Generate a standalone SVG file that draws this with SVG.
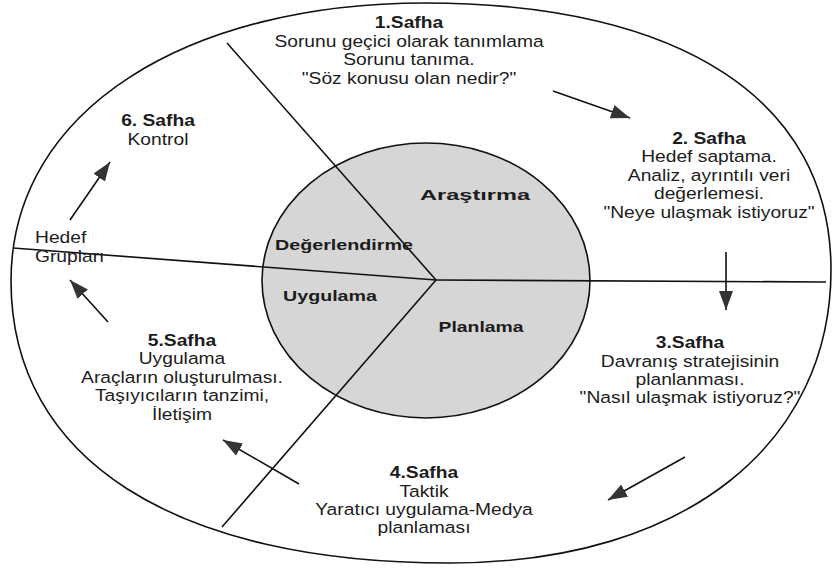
<svg xmlns="http://www.w3.org/2000/svg" width="833" height="574" viewBox="0 0 833 574">
<style>
.t{font-family:"Liberation Sans",Arial,sans-serif;font-size:16.3px;fill:#1c1c1c;text-anchor:middle}
.b{font-weight:bold}
.ib{font-family:"Liberation Sans",Arial,sans-serif;font-size:15.5px;font-weight:bold;fill:#1c1c1c;text-anchor:middle}
.ln{fill:none;stroke:#111;stroke-width:1.6}
.ar{fill:none;stroke:#111;stroke-width:1.6;marker-end:url(#ah)}
</style>
<defs>
<marker id="ah" markerUnits="userSpaceOnUse" markerWidth="22" markerHeight="16" refX="19" refY="7" orient="auto">
<path d="M0,0 L19,7 L0,14 Z" fill="#333"/>
</marker>
</defs>
<rect width="833" height="574" fill="#fff"/>
<g id="outer">
<path class="ln" d="M11,281 C11,108 190,3 425,3 C682,3 831,101 831,270 C831,440 690,563 450,563 C174,563 11,459 11,281 Z"/>
</g>
<g id="core">
<ellipse cx="426" cy="280.5" rx="164" ry="137.5" fill="#d6d6d6" stroke="#111" stroke-width="1.6"/>
</g>
<g id="dividers">
<line class="ln" x1="227" y1="43" x2="436" y2="280"/>
<line class="ln" x1="13" y1="248" x2="436" y2="280"/>
<line class="ln" x1="436" y1="280" x2="826" y2="282"/>
<line class="ln" x1="436" y1="280" x2="222" y2="527"/>
</g>
<g id="inner-labels">
<text id="arastirma" class="ib" x="475" y="200" textLength="110" lengthAdjust="spacingAndGlyphs">Araştırma</text>
<text id="degerlendirme" class="ib" x="344" y="250" textLength="138" lengthAdjust="spacingAndGlyphs">Değerlendirme</text>
<text id="uygulama" class="ib" x="330" y="301" textLength="94" lengthAdjust="spacingAndGlyphs">Uygulama</text>
<text id="planlama" class="ib" x="481" y="332" textLength="85" lengthAdjust="spacingAndGlyphs">Planlama</text>
</g>
<g id="phase1" transform="translate(409,0) scale(1.18,1)">
<text class="t b" x="0" y="28">1.Safha</text>
<text class="t" x="0" y="47">Sorunu geçici olarak tanımlama</text>
<text class="t" x="0" y="65.5">Sorunu tanıma.</text>
<text class="t" x="0" y="84">"Söz konusu olan nedir?"</text>
</g>
<g id="phase2" transform="translate(709,0) scale(1.18,1)">
<text class="t b" x="0" y="144">2. Safha</text>
<text class="t" x="0" y="162.5">Hedef saptama.</text>
<text class="t" x="0" y="181">Analiz, ayrıntılı veri</text>
<text class="t" x="0" y="199.5">değerlemesi.</text>
<text class="t" x="0" y="218">"Neye ulaşmak istiyoruz"</text>
</g>
<g id="phase3" transform="translate(690,0) scale(1.18,1)">
<text class="t b" x="0" y="348">3.Safha</text>
<text class="t" x="0" y="367">Davranış stratejisinin</text>
<text class="t" x="0" y="385">planlanması.</text>
<text class="t" x="0" y="403">"Nasıl ulaşmak istiyoruz?"</text>
</g>
<g id="phase4" transform="translate(424,0) scale(1.18,1)">
<text class="t b" x="0" y="478">4.Safha</text>
<text class="t" x="0" y="497">Taktik</text>
<text class="t" x="0" y="515">Yaratıcı uygulama-Medya</text>
<text class="t" x="0" y="533">planlaması</text>
</g>
<g id="phase5" transform="translate(182,0) scale(1.18,1)">
<text class="t b" x="0" y="346">5.Safha</text>
<text class="t" x="0" y="364.5">Uygulama</text>
<text class="t" x="0" y="383">Araçların oluşturulması.</text>
<text class="t" x="0" y="401.5">Taşıyıcıların tanzimi,</text>
<text class="t" x="0" y="420">İletişim</text>
</g>
<g id="phase6" transform="translate(158,0) scale(1.18,1)">
<text class="t b" x="0" y="126">6. Safha</text>
<text class="t" x="0" y="145">Kontrol</text>
</g>
<g id="hedef-gruplari" transform="translate(35,0) scale(1.18,1)">
<text class="t" x="0" y="243" style="text-anchor:start">Hedef</text>
<text class="t" x="0" y="262" style="text-anchor:start">Grupları</text>
</g>
<g id="connectors">
<line class="ar" x1="553" y1="91" x2="630" y2="118"/>
<line class="ar" x1="726" y1="252" x2="726" y2="310"/>
<line class="ar" x1="685" y1="457" x2="608" y2="500"/>
<line class="ar" x1="299" y1="484" x2="223" y2="440"/>
<line class="ar" x1="108" y1="322" x2="70" y2="280"/>
<line class="ar" x1="70" y1="220" x2="110" y2="162"/>
</g>
</svg>
